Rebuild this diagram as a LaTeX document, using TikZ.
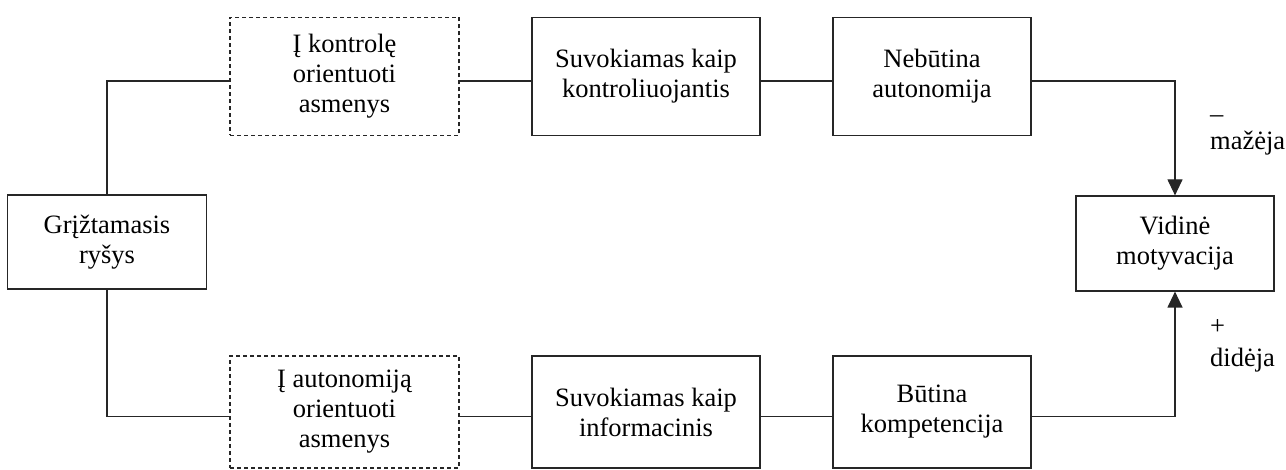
\documentclass[tikz,border=0pt]{standalone}
\usepackage{fontspec}
\setmainfont{Liberation Serif}
\usetikzlibrary{arrows.meta}
\newcommand{\boxfont}{\fontsize{26.5}{30}\selectfont}
\begin{document}
\begin{tikzpicture}[x=1pt,y=1pt,
  blk/.style={draw=black!85, line width=1.2pt, inner sep=0pt, align=center, font=\boxfont},
  dbox/.style={blk, dash pattern=on 4pt off 3pt},
  wire/.style={draw=black!85, line width=1.2pt},
  arr/.style={wire, -{Triangle[width=15pt,length=16pt]}},
  lbl/.style={inner sep=0pt, font=\boxfont, anchor=base west}]
\useasboundingbox (0,0) rectangle (1286,470);

% left: feedback
\node[blk, minimum width=199pt, minimum height=94pt] (fb) at (107,228) {Grįžtamasis\\ryšys};

% upper chain
\node[dbox, minimum width=229pt, minimum height=118pt] (ko) at (344.5,393.5) {Į kontrolę\\orientuoti\\asmenys};
\node[blk, minimum width=228pt, minimum height=118pt] (sk) at (646,393.5) {Suvokiamas kaip\\kontroliuojantis};
\node[blk, minimum width=198pt, minimum height=118pt] (na) at (932,393.5) {Nebūtina\\autonomija};

% right: outcome
\node[blk, minimum width=198pt, minimum height=95pt] (vm) at (1175,226.5) {Vidinė\\motyvacija};

% lower chain
\node[dbox, minimum width=229pt, minimum height=112pt] (ao) at (344.5,58) {Į autonomiją\\orientuoti\\asmenys};
\node[blk, minimum width=228pt, minimum height=112pt] (si) at (646,58) {Suvokiamas kaip\\informacinis};
\node[blk, minimum width=198pt, minimum height=112pt] (bk) at (932,58) {Būtina\\kompetencija};

% connectors
\draw[wire] (fb.north) |- ([yshift=-4.5pt]ko.west);
\draw[wire] ([yshift=-4.5pt]ko.east) -- ([yshift=-4.5pt]sk.west);
\draw[wire] ([yshift=-4.5pt]sk.east) -- ([yshift=-4.5pt]na.west);
\draw[arr] ([yshift=-4.5pt]na.east) -| (vm.north);

\draw[wire] (fb.south) |- ([yshift=-4.5pt]ao.west);
\draw[wire] ([yshift=-4.5pt]ao.east) -- ([yshift=-4.5pt]si.west);
\draw[wire] ([yshift=-4.5pt]si.east) -- ([yshift=-4.5pt]bk.west);
\draw[arr] ([yshift=-4.5pt]bk.east) -| (vm.south);

% effect labels
\node[lbl] (minus) at (1210,347) {–};
\node[lbl] (dec) at (1210,320) {mažėja};
\node[lbl] (plus) at (1210,135.5) {+};
\node[lbl] (inc) at (1210,103) {didėja};
\end{tikzpicture}
\end{document}
